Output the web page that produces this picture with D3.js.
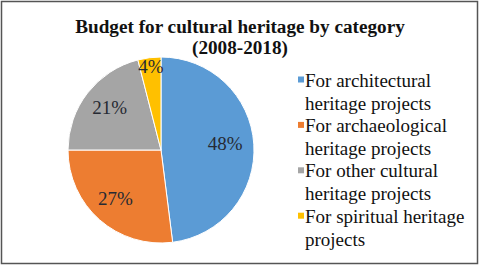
<!DOCTYPE html>
<html><head><meta charset="utf-8">
<script src="https://cdn.jsdelivr.net/npm/d3@7"></script>
<style>body{margin:0;background:#fff} text{font-family:"Liberation Serif","Times New Roman","DejaVu Serif",serif;}</style>
</head><body>
<script>
const categories = ["For architectural heritage projects","For archaeological heritage projects","For other cultural heritage projects","For spiritual heritage projects"];
const legendLines = [["For architectural","heritage projects"],["For archaeological","heritage projects"],["For other cultural","heritage projects"],["For spiritual heritage","projects"]];
const values = [48, 27, 21, 4];
const colors = ["#5B9BD5","#ED7D31","#A5A5A5","#FFC000"];
const titleLines = ["Budget for cultural heritage by category","(2008-2018)"];

const W=480,H=266;
const svg=d3.select("body").append("svg").attr("width",W).attr("height",H);
svg.append("rect").attr("x",1.5).attr("y",1.5).attr("width",476).attr("height",262)
  .attr("fill","#fff").attr("stroke","#555").attr("stroke-width",1.5);

svg.append("text").attr("x",240).attr("y",33).attr("text-anchor","middle")
  .attr("font-weight","bold").attr("font-size",19.2).attr("fill","#111")
  .selectAll("tspan").data(titleLines).join("tspan").attr("x",240).attr("dy",(d,i)=>i?21:0).text(d=>d);

const cx=161, cy=150, r=93;
const labelFactor=[0.69,0.74,0.70,0.87];
const pie=d3.pie().sort(null).value(d=>d)(values);
const arc=d3.arc().innerRadius(0).outerRadius(r);
const g=svg.append("g").attr("transform",`translate(${cx},${cy})`);
g.selectAll("path").data(pie).join("path").attr("d",arc)
  .attr("fill",(d,i)=>colors[i]).attr("stroke","#fff").attr("stroke-width",1);
g.selectAll("text.l").data(pie).join("text").attr("class","l")
  .attr("transform",(d,i)=>{const a=d3.arc().innerRadius(r*labelFactor[i]).outerRadius(r*labelFactor[i]);const c=a.centroid(d);return `translate(${c[0]},${c[1]-3})`;})
  .attr("text-anchor","middle").attr("dy","0.35em")
  .attr("font-size",19).attr("fill","#262a33")
  .text(d=>d.data+"%");

const lg=svg.append("g");
legendLines.forEach((lines,i)=>{
  const y0=80+i*45.4;
  lg.append("rect").attr("x",298).attr("y",y0-3.5).attr("width",6).attr("height",6).attr("fill",colors[i]);
  lines.forEach((t,j)=>{
    lg.append("text").attr("x",305).attr("y",y0+j*23).attr("dy","0.35em")
      .attr("font-size",19).attr("fill","#111").text(t);
  });
});
</script>
</body></html>
